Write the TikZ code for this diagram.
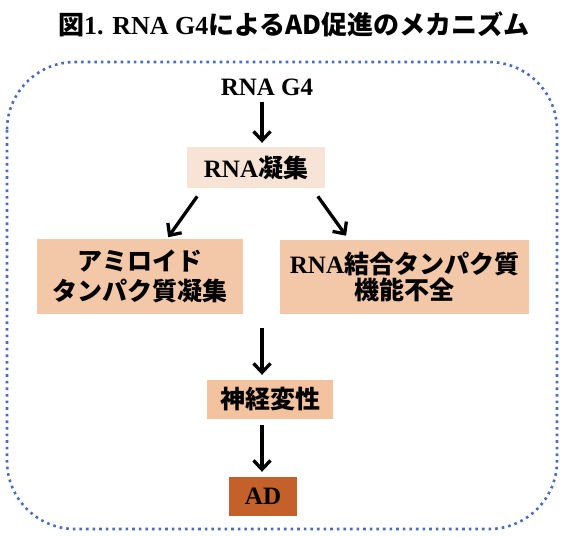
\documentclass[tikz,border=0pt]{standalone}
\usepackage{fontspec}
\setmainfont{Liberation Serif}
\newfontfamily\cjk{Noto Sans CJK JP}
\usetikzlibrary{arrows.meta}
\definecolor{borderblue}{HTML}{4A6CC0}
\definecolor{lightfill}{HTML}{F8E4D6}
\definecolor{peachfill}{HTML}{F3C8A8}
\definecolor{neurofill}{HTML}{F3C29E}
\definecolor{adfill}{HTML}{C4612A}
\tikzset{
  lbl/.style={inner sep=0pt, font=\fontsize{25}{29}\selectfont\bfseries, text=black},
  stepbox/.style={draw=none, inner sep=0pt, align=center, font=\fontsize{25}{29}\selectfont\bfseries, text=black},
  arr/.style={line width=3.3pt, -{Straight Barb[length=9pt,width=17pt,line width=3.3pt]}},
  frame/.style={draw=borderblue, line width=2.6pt, dash pattern=on 2.6pt off 4pt, rounded corners=68pt}
}
\begin{document}
\begin{tikzpicture}[x=1pt,y=-1pt]
\useasboundingbox (0,0) rectangle (564,536);
\fill[white] (0,0) rectangle (564,536);
% frame
\draw[frame] (7,62) rectangle (557,529);
% title
\node[lbl, font=\fontsize{26}{30}\selectfont\bfseries] (title) at (294,24)
  {{\cjk 図}1. RNA G4{\cjk によるAD促進のメカニズム}};
% nodes
\node[lbl] (g4) at (267,87) {RNA G4};
\node[stepbox, fill=lightfill, minimum width=138pt, minimum height=41pt] (agg) at (256,167.5)
  {RNA{\cjk 凝集}};
\node[stepbox, fill=peachfill, minimum width=206pt, minimum height=75pt] (amy) at (140,276.5)
  {{\cjk アミロイド}\\[1pt]{\cjk タンパク質凝集}};
\node[stepbox, fill=peachfill, minimum width=249pt, minimum height=74pt] (rbp) at (404.5,277)
  {RNA{\cjk 結合タンパク質}\\[-3pt]{\cjk 機能不全}};
\node[stepbox, fill=neurofill, minimum width=126pt, minimum height=39pt] (neuro) at (270,399.5)
  {{\cjk 神経変性}};
\node[stepbox, fill=adfill, minimum width=68pt, minimum height=39pt] (ad) at (263,496.5)
  {AD};
\coordinate (mid) at (262,328);
% arrows
\draw[arr, shorten <=6pt, shorten >=4pt] ([xshift=-5pt]g4.south) -- ([xshift=6pt]agg.north);
\draw[arr, shorten <=10pt, shorten >=2pt] ([xshift=-53pt]agg.south) -- ([xshift=27pt]amy.north);
\draw[arr, shorten <=10pt, shorten >=5pt] ([xshift=56pt]agg.south) -- ([xshift=-55.5pt]rbp.north);
\draw[arr, shorten >=5pt] (mid) -- ([xshift=-8pt]neuro.north);
\draw[arr, shorten <=6pt, shorten >=5pt] ([xshift=-8pt]neuro.south) -- ([xshift=-1pt]ad.north);
\end{tikzpicture}
\end{document}
